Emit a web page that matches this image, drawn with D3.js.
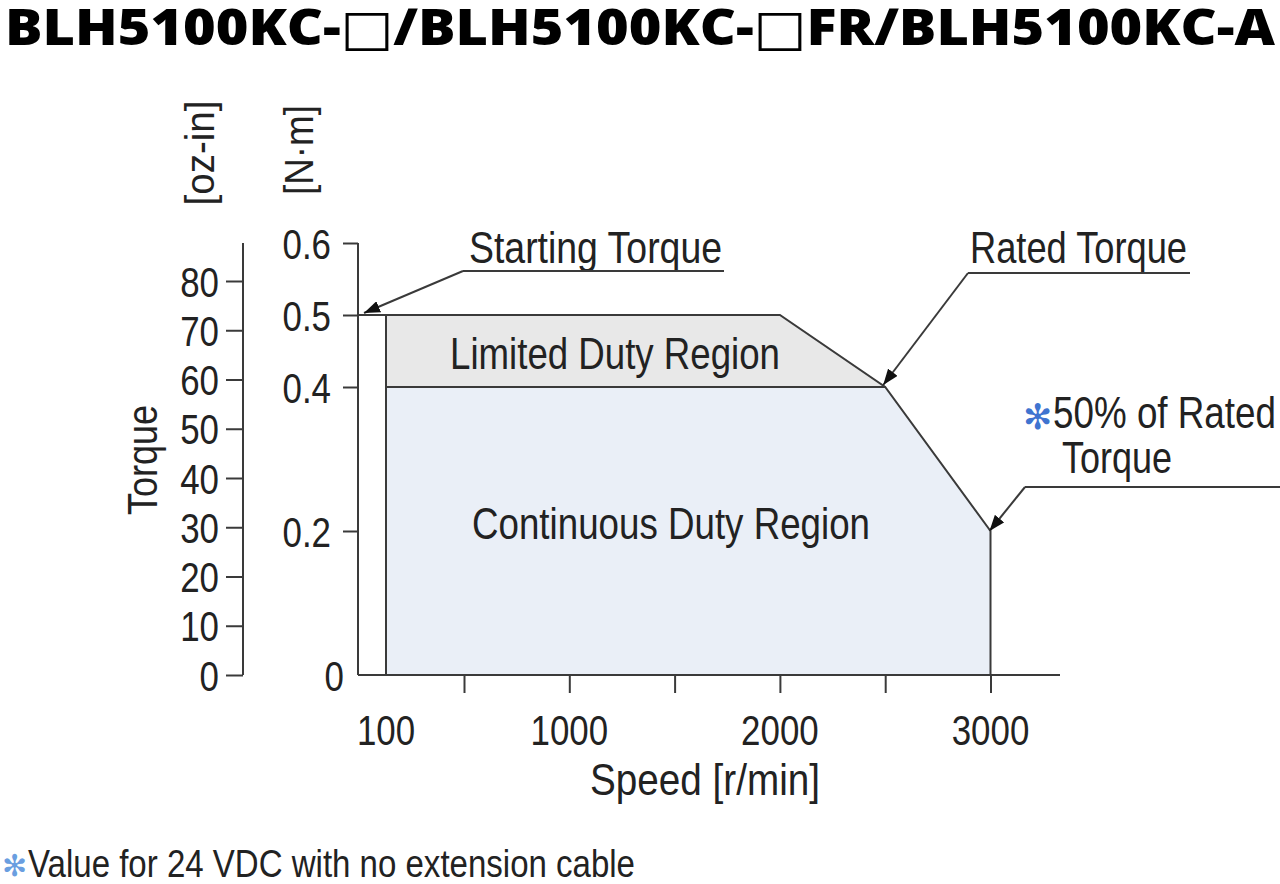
<!DOCTYPE html>
<html>
<head>
<meta charset="utf-8">
<script src="https://cdn.jsdelivr.net/npm/d3@7/dist/d3.min.js"></script>
<style>
  html, body { margin: 0; padding: 0; background: #fff; }
  svg { display: block; }
  .nar { font-family: "Liberation Sans", Arial, sans-serif; fill: #222; }
</style>
</head>
<body>
<svg id="chart" width="1280" height="884"></svg>
<script>
// ---------- data ----------
const titleText = "BLH5100KC-\u25A1/BLH5100KC-\u25A1FR/BLH5100KC-A";
const speedTickValues = [500, 1000, 1500, 2000, 2500, 3000];
const speedLabelValues = [100, 1000, 2000, 3000];
const nmTickValues = [0, 0.2, 0.4, 0.5, 0.6];
const ozTickValues = [0, 10, 20, 30, 40, 50, 60, 70, 80];
// Continuous duty region outline (speed r/min, torque N·m)
const contSpeed  = [100, 100, 2500, 3000, 3000];
const contTorque = [0,   0.4, 0.4,  0.2,  0];
// Limited duty region outline
const limSpeed  = [100, 100, 2000, 2500];
const limTorque = [0.4, 0.5, 0.5,  0.4];
// Outer torque curve (starting torque at speed 0)
const curveSpeed  = [0,   2000, 2500, 3000, 3000];
const curveTorque = [0.5, 0.5,  0.4,  0.2,  0];
const startingTorque = { speed: 0, torque: 0.5 };
const ratedTorque = { speed: 2500, torque: 0.4 };
const halfRated = { speed: 3000, torque: 0.2 };

// ---------- helpers ----------
const CONDENSE = 0.83;
function condense(sel) {
  sel.each(function () {
    const w = this.getComputedTextLength();
    d3.select(this).attr("textLength", w * CONDENSE).attr("lengthAdjust", "spacingAndGlyphs");
  });
  return sel;
}
function fitTo(sel, w) {
  return sel.attr("textLength", w).attr("lengthAdjust", "spacingAndGlyphs");
}

// ---------- scales ----------
const svg = d3.select("#chart");
const x = d3.scaleLinear().domain([0, 100, 500, 3330]).range([358, 386, 464, 1060]);
const yNm = d3.scaleLinear().domain([0, 0.6]).range([675, 243]);
const yOz = d3.scaleLinear().domain([0, 80]).range([675, 281]);
const lineColor = "#3a3a3a";

const toPts = (s, t) => s.map((v, i) => [x(v), yNm(t[i])]);

// ---------- regions ----------
svg.append("path")
  .attr("d", d3.line()(toPts(contSpeed, contTorque)) + "Z")
  .attr("fill", "#eaeff7").attr("stroke", "none");
svg.append("path")
  .attr("d", d3.line()(toPts(limSpeed, limTorque)) + "Z")
  .attr("fill", "#e8e8e8").attr("stroke", "none");

svg.append("path").attr("d", d3.line()(toPts(curveSpeed, curveTorque)))
  .attr("fill", "none").attr("stroke", lineColor).attr("stroke-width", 2);
svg.append("line")
  .attr("x1", x(100)).attr("x2", x(100)).attr("y1", yNm(0)).attr("y2", yNm(0.5))
  .attr("stroke", lineColor).attr("stroke-width", 2);
svg.append("line")
  .attr("x1", x(100)).attr("x2", x(2500)).attr("y1", yNm(0.4)).attr("y2", yNm(0.4))
  .attr("stroke", lineColor).attr("stroke-width", 2);

// ---------- axes ----------
const fontTick = 42;
// N·m axis
const nmAxis = svg.append("g").attr("transform", `translate(${x(0)},0)`)
  .call(d3.axisLeft(yNm).tickValues(nmTickValues).tickSize(15).tickFormat(d => d === 0 ? "0" : d3.format(".1f")(d)));
nmAxis.select(".domain").remove();
nmAxis.selectAll(".tick line").attr("stroke", lineColor).attr("stroke-width", 2)
  .filter(d => d === 0).remove();
nmAxis.selectAll(".tick text").attr("class", "nar").attr("font-size", fontTick)
  .attr("font-family", null).attr("fill", null)
  .attr("x", d => d === 0 ? -14 : -27).attr("dy", "0.36em");
condense(nmAxis.selectAll(".tick text"));
svg.append("line").attr("x1", x(0)).attr("x2", x(0)).attr("y1", yNm(0.6)).attr("y2", yNm(0))
  .attr("stroke", lineColor).attr("stroke-width", 2);

// oz-in axis
const ozX = 243;
const ozAxis = svg.append("g").attr("transform", `translate(${ozX},0)`)
  .call(d3.axisLeft(yOz).tickValues(ozTickValues).tickSize(17));
ozAxis.select(".domain").remove();
ozAxis.selectAll(".tick line").attr("stroke", lineColor).attr("stroke-width", 2);
ozAxis.selectAll(".tick text").attr("class", "nar").attr("font-size", fontTick)
  .attr("font-family", null).attr("fill", null)
  .attr("x", -24).attr("dy", "0.36em");
condense(ozAxis.selectAll(".tick text"));
svg.append("line").attr("x1", ozX).attr("x2", ozX).attr("y1", yNm(0.6)).attr("y2", yOz(0))
  .attr("stroke", lineColor).attr("stroke-width", 2);

// Speed axis
const xAxis = svg.append("g").attr("transform", `translate(0,${yNm(0)})`)
  .call(d3.axisBottom(x).tickValues(speedTickValues).tickSize(18).tickFormat(""));
xAxis.select(".domain").remove();
xAxis.selectAll(".tick line").attr("stroke", lineColor).attr("stroke-width", 2);
svg.append("line").attr("x1", x(0)).attr("x2", x.range()[x.range().length - 1])
  .attr("y1", yNm(0)).attr("y2", yNm(0)).attr("stroke", lineColor).attr("stroke-width", 2);
const xl = svg.selectAll(".xlab").data(speedLabelValues).enter().append("text")
  .attr("class", "nar").attr("font-size", fontTick).attr("text-anchor", "middle")
  .attr("x", d => x(d)).attr("y", 745).text(d => d);
condense(xl);

// Axis titles
fitTo(svg.append("text").attr("class", "nar").attr("font-size", 44).attr("text-anchor", "middle")
  .attr("x", 705).attr("y", 795).text("Speed [r/min]"), 230);
fitTo(svg.append("text").attr("class", "nar").attr("font-size", 42).attr("text-anchor", "middle")
  .attr("transform", "translate(157,460) rotate(-90)").text("Torque"), 110);
fitTo(svg.append("text").attr("class", "nar").attr("font-size", 40).attr("text-anchor", "middle")
  .attr("transform", "translate(214,153) rotate(-90)").text("[oz-in]"), 105);
fitTo(svg.append("text").attr("class", "nar").attr("font-size", 40).attr("text-anchor", "middle")
  .attr("transform", "translate(313,150) rotate(-90)").text("[N\u00B7m]"), 90);

// Region labels
fitTo(svg.append("text").attr("class", "nar").attr("font-size", 44).attr("text-anchor", "middle")
  .attr("x", 615).attr("y", 369).text("Limited Duty Region"), 330);
fitTo(svg.append("text").attr("class", "nar").attr("font-size", 44).attr("text-anchor", "middle")
  .attr("x", 671).attr("y", 539).text("Continuous Duty Region"), 398);

// ---------- annotations ----------
const defs = svg.append("defs");
defs.append("marker").attr("id", "arr").attr("viewBox", "0 0 16 12")
  .attr("refX", 16).attr("refY", 6).attr("markerWidth", 16).attr("markerHeight", 12)
  .attr("markerUnits", "userSpaceOnUse").attr("orient", "auto")
  .append("path").attr("d", "M0,0 L16,6 L0,12 Z").attr("fill", "#111");

function leader(ulx1, ulx2, uly, tip) {
  svg.append("line").attr("x1", ulx1).attr("x2", ulx2).attr("y1", uly).attr("y2", uly)
    .attr("stroke", lineColor).attr("stroke-width", 2);
  svg.append("line").attr("x1", ulx1).attr("y1", uly).attr("x2", tip[0]).attr("y2", tip[1])
    .attr("stroke", lineColor).attr("stroke-width", 2).attr("marker-end", "url(#arr)");
}
function label(txt, lx, ly, w) {
  return fitTo(svg.append("text").attr("class", "nar").attr("font-size", 44)
    .attr("x", lx).attr("y", ly).text(txt), w);
}
function mark(mx, my, size, color) {
  svg.append("text").attr("x", mx).attr("y", my)
    .attr("font-family", "'DejaVu Sans', sans-serif").attr("font-size", size)
    .attr("fill", color).text("\u273B");
}

label("Starting Torque", 469, 263, 253);
leader(463, 724, 271, [x(startingTorque.speed) + 6, yNm(startingTorque.torque) - 2]);

label("Rated Torque", 970, 263, 217);
leader(968, 1190, 273, [x(ratedTorque.speed) - 2, yNm(ratedTorque.torque) - 2]);

mark(1023, 429, 35, "#3f74d0");
label("50% of Rated", 1053, 428, 223);
label("Torque", 1062, 473, 110);
leader(1025, 1280, 487, [x(halfRated.speed) - 1, yNm(halfRated.torque)]);

// ---------- title ----------
svg.append("text").attr("x", 5).attr("y", 45)
  .attr("font-family", "'Open Sans', 'DejaVu Sans', sans-serif").attr("font-weight", 800)
  .attr("font-size", 50).attr("fill", "#000")
  .attr("textLength", 1270).attr("lengthAdjust", "spacingAndGlyphs")
  .text(titleText);

// ---------- footnote ----------
mark(2, 876, 30, "#6a9ee0");
fitTo(svg.append("text").attr("class", "nar").attr("font-size", 38)
  .attr("x", 28).attr("y", 877).text("Value for 24 VDC with no extension cable"), 607);
</script>
</body>
</html>
